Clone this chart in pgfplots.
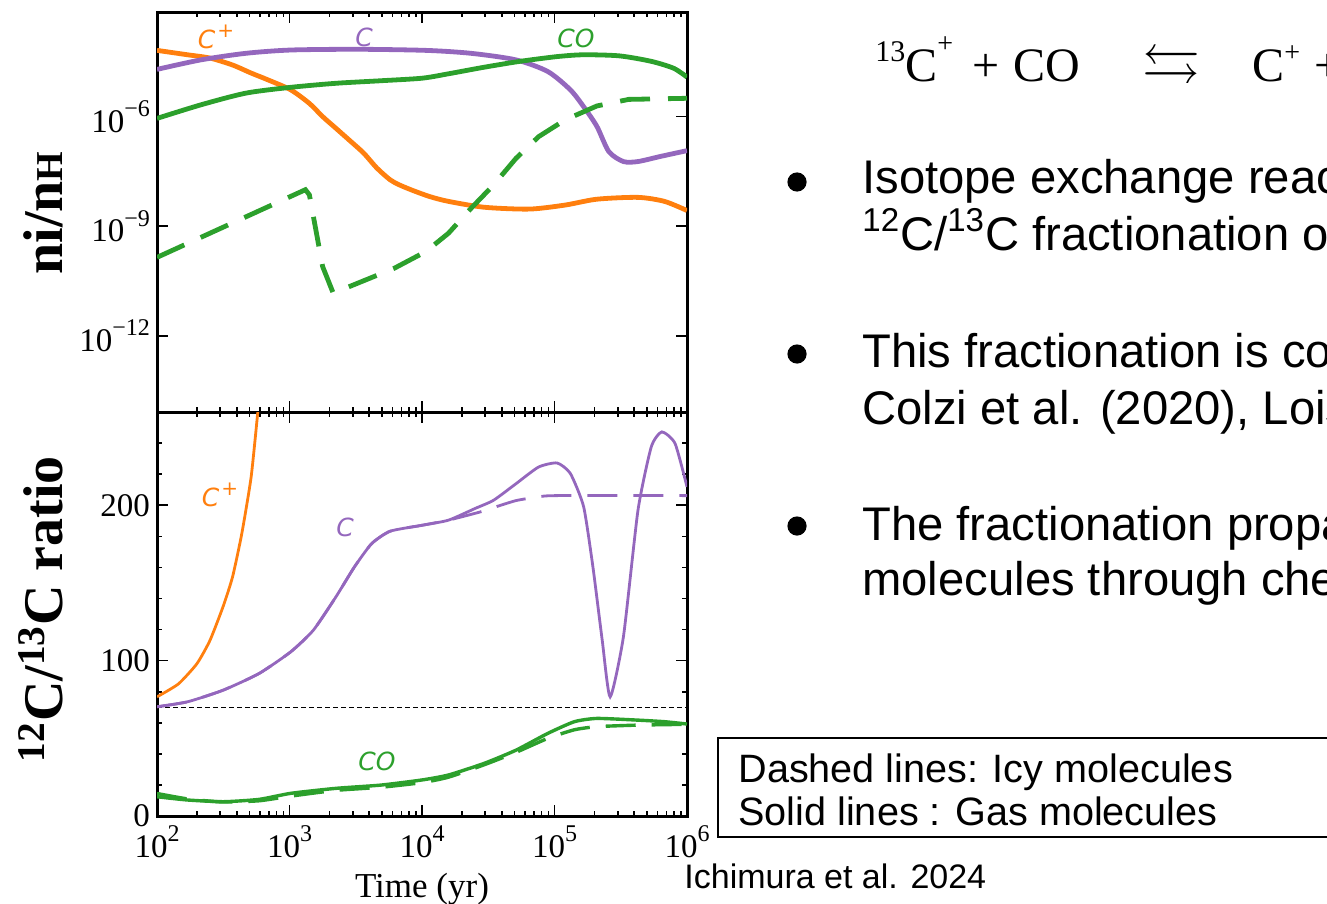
\documentclass[border=0pt]{standalone}
\usepackage{fontspec}
\usepackage{amssymb}
\usepackage{pgfplots}
\pgfplotsset{compat=1.18}
\setmainfont{Liberation Sans}
\newfontfamily\tnr{Liberation Serif}
\newfontfamily\dvs{DejaVu Sans}
\definecolor{cOr}{HTML}{FF7F0E}
\definecolor{cPu}{HTML}{9467BD}
\definecolor{cGr}{HTML}{2CA02C}
\newcommand\bt{\fontsize{23.6}{28}\selectfont}
\newcommand\lab{\dvs\itshape\fontsize{12.5}{14}\selectfont}
\newcommand\ex[1]{\raisebox{0.48em}{\fontsize{12}{12}\selectfont #1}}
\newcommand\cp{C\kern1pt\raisebox{0.42em}{\fontsize{10}{10}\selectfont +}}
\begin{document}
\begin{tikzpicture}[x=0.5pt,y=-0.5pt]
\useasboundingbox (0,0) rectangle (1327,904);
\clip (0,0) rectangle (1327,904);

% ---------------- top panel ----------------
\begin{axis}[at={(78.5pt,-206pt)}, anchor=south west,
  scale only axis, width=265pt, height=200pt,
  xmode=log, xmin=100, xmax=1e6,
  xtick={1e2,1e3,1e4,1e5,1e6},
  minor xtick={200,300,400,500,600,700,800,900,2000,3000,4000,5000,6000,7000,8000,9000,
      20000,30000,40000,50000,60000,70000,80000,90000,
      200000,300000,400000,500000,600000,700000,800000,900000},
  axis line style={line width=1.5pt},
  every tick/.style={black, line width=0.8pt},
  major tick length=5.5pt, minor tick length=2.5pt,
  tick align=inside,
  tick label style={font=\tnr\fontsize{16.5}{18}\selectfont},
  ymode=log, ymin=8.32e-15, ymax=7.24e-4,
  ytick={1e-12,1e-9,1e-6},
  yticklabels={10\ex{−12},10\ex{−9},10\ex{−6}},
  yminorticks=false,
  xticklabels={},
  ylabel={ni/n{\fontsize{19}{19}\selectfont H}},
  ylabel style={at={(axis description cs:-0.179,0.4975)}, anchor=base,
    font=\tnr\bfseries\fontsize{28}{30}\selectfont},
]
\addplot[cOr, line width=2.4pt, smooth, tension=0.45] coordinates {
 (100,6.46e-5) (170,4.90e-5) (251,3.98e-5) (372,2.57e-5) (513,1.55e-5)
 (692,1.0e-5) (1023,5.37e-6) (1413,2.29e-6) (1778,1.0e-6) (2239,4.79e-7)
 (2818,2.29e-7) (3631,1.0e-7) (4571,3.89e-8) (5754,1.86e-8) (6761,1.35e-8)
 (8511,9.55e-9) (11482,6.46e-9) (15849,4.79e-9) (29512,3.31e-9) (64565,2.95e-9)
 (120226,3.80e-9) (208930,5.50e-9) (426580,6.17e-9) (676083,4.79e-9) (1e6,2.69e-9)};
\addplot[cPu, line width=2.4pt, smooth, tension=0.45] coordinates {
 (100,1.95e-5) (214,3.55e-5) (468,5.37e-5) (1023,6.61e-5) (3311,6.92e-5)
 (10715,6.46e-5) (23442,5.37e-5) (51286,3.55e-5) (89125,1.70e-5) (131826,5.37e-6)
 (165959,1.86e-6) (208930,5.37e-7) (257040,1.10e-7) (331131,5.89e-8)
 (426580,5.89e-8) (630957,8.13e-8) (1e6,1.17e-7)};
\addplot[cGr, line width=2.4pt, smooth, tension=0.45] coordinates {
 (100,8.91e-7) (214,2.09e-6) (468,4.37e-6) (1023,6.31e-6) (2239,8.13e-6)
 (4898,9.55e-6) (10000,1.12e-5) (15849,1.48e-5) (29512,2.24e-5) (54954,3.24e-5)
 (104713,4.37e-5) (165959,4.90e-5) (309030,4.57e-5) (537032,3.24e-5)
 (794328,2.09e-5) (1e6,1.20e-5)};
\addplot[cGr, line width=2.4pt, dash pattern=on 15pt off 9pt] coordinates {
 (100,1.41e-10) (1318,1.0e-8) (1413,7.24e-9) (1778,7.94e-11) (2138,1.48e-11)
 (6166,7.08e-11) (10715,2.04e-10) (15849,6.46e-10) (23442,3.09e-9) (34674,1.35e-8)
 (51286,7.24e-8) (75858,2.82e-7) (120226,8.13e-7) (208930,1.95e-6)
 (363078,2.95e-6) (1e6,3.16e-6)};
\end{axis}

% ---------------- bottom panel ----------------
\begin{axis}[at={(78.5pt,-408pt)}, anchor=south west,
  scale only axis, width=265pt, height=202pt,
  xmode=log, xmin=100, xmax=1e6,
  xtick={1e2,1e3,1e4,1e5,1e6},
  minor xtick={200,300,400,500,600,700,800,900,2000,3000,4000,5000,6000,7000,8000,9000,
      20000,30000,40000,50000,60000,70000,80000,90000,
      200000,300000,400000,500000,600000,700000,800000,900000},
  axis line style={line width=1.5pt},
  every tick/.style={black, line width=0.8pt},
  major tick length=5.5pt, minor tick length=2.5pt,
  tick align=inside,
  tick label style={font=\tnr\fontsize{16.5}{18}\selectfont},
  xticklabel style={yshift=-1.5pt},
  ymin=0, ymax=260,
  ytick={0,100,200}, yticklabels={0,100,200},
  minor ytick={20,40,60,80,120,140,160,180,220,240},
  xticklabels={10\ex{2},10\ex{3},10\ex{4},10\ex{5},10\ex{6}},
  xlabel={Time (yr)},
  xlabel style={at={(axis description cs:0.5,-0.18)}, anchor=center,
    font=\tnr\fontsize{17.5}{19}\selectfont},
  ylabel={\textsuperscript{12}C/\textsuperscript{13}C ratio},
  ylabel style={at={(axis description cs:-0.179,0.512)}, anchor=base,
    font=\tnr\bfseries\fontsize{28}{30}\selectfont},
]
\addplot[black, line width=0.7pt, dash pattern=on 2.5pt off 1.5pt] coordinates {(100,70) (1e6,70)};
\addplot[cOr, line width=1.4pt, smooth, tension=0.35] coordinates {
 (100,76.7) (145,85) (200,98) (251,113) (316,135) (372,154) (437,182)
 (513,218) (575,259) (600,275)};
\addplot[cPu, line width=1.4pt, smooth, tension=0.35] coordinates {
 (100,70.3) (170,73.5) (316,81) (589,91.7) (1023,105.7) (1514,119.6)
 (2239,141) (3090,160.3) (4169,175.3) (5754,183.3) (10000,187.1) (15849,190.4)
 (25119,197.9) (34674,203.2) (51286,213.9) (75858,224.6) (104713,227.2)
 (131826,220.4) (165959,199) (194984,160.3) (229087,113.2) (263027,76.7)
 (331131,115.3) (426580,196.8) (537032,237.5) (645654,247.2) (812831,239.7)
 (1e6,211.8)};
\addplot[cPu, line width=1.4pt, smooth, tension=0.35, dash pattern=on 15pt off 8pt] coordinates {
 (100,70.3) (170,73.5) (316,81) (589,91.7) (1023,105.7) (1514,119.6)
 (2239,141) (3090,160.3) (4169,175.3) (5754,183.3) (10000,187.1) (15849,190.4)
 (27542,195.7) (34674,198.5) (51286,203) (75858,205.4) (104713,206.2) (1e6,206.2)};
\addplot[cGr, line width=1.7pt, smooth, tension=0.35] coordinates {
 (100,12.4) (170,10.3) (316,9.2) (589,10.7) (1023,14.6) (2239,17.8) (4898,19.9)
 (10000,23.2) (15849,26.4) (29512,33.9) (51286,42.4) (89125,53.2) (141254,60.7)
 (208930,62.8) (426580,61.7) (676083,60.7) (1e6,59.2)};
\addplot[cGr, line width=1.7pt, smooth, tension=0.35, dash pattern=on 15pt off 8pt] coordinates {
 (100,14.5) (170,11) (316,9.0) (589,9.8) (1023,12.8) (2239,16.5) (4898,18.5)
 (10000,21.5) (15849,25) (29512,33) (51286,41) (89125,50) (141254,55.5)
 (208930,57.5) (426580,58.5) (1e6,59)};
\end{axis}

% curve labels
\node[font=\lab, text=cOr] at (216,37) {\cp};
\node[font=\lab, text=cPu] at (364,37) {C};
\node[font=\lab, text=cGr] at (576,38) {CO};
\node[font=\lab, text=cOr] at (220,495) {\cp};
\node[font=\lab, text=cPu] at (345,527) {C};
\node[font=\lab, text=cGr] at (377,761) {CO};

% equation
\node[anchor=base west, inner sep=0, font=\tnr\fontsize{24}{28}\selectfont] at (875,82)
 {\raisebox{0.42em}{\fontsize{15}{15}\selectfont 13}C\raisebox{0.62em}{\fontsize{14}{14}\selectfont +}\hspace{0.4em}+\hspace{0.3em}CO};
\node[anchor=base west, inner sep=0, font=\fontsize{29}{32}\selectfont] at (1142,84) {$\leftrightarrows$};
\node[anchor=base west, inner sep=0, font=\tnr\fontsize{24}{28}\selectfont] at (1252,82)
 {C\raisebox{0.42em}{\fontsize{14}{14}\selectfont +}\hspace{0.3em}+\hspace{0.25em}\raisebox{0.42em}{\fontsize{15}{15}\selectfont 13}CO};

% bullets
\fill (797,182) circle[radius=4.8pt];
\fill (797,354) circle[radius=4.8pt];
\fill (797,526) circle[radius=4.8pt];
\node[anchor=base west, inner sep=0, font=\bt] at (862,193) {Isotope exchange reactions};
\node[anchor=base west, inner sep=0, font=\bt] at (862,250) {\textsuperscript{12}C/\textsuperscript{13}C fractionation of};
\node[anchor=base west, inner sep=0, font=\bt] at (862,367) {This fractionation is consistent};
\node[anchor=base west, inner sep=0, font=\bt] at (862,424) {Colzi et al. (2020), Loison};
\node[anchor=base west, inner sep=0, font=\bt] at (862,540) {The fractionation propagates};
\node[anchor=base west, inner sep=0, font=\bt] at (862,595) {molecules through chemistry};

% box
\draw[line width=1pt] (718,738) rectangle (1345,837);
\node[anchor=base west, inner sep=0, font=\fontsize{19.8}{23}\selectfont] at (738,782) {Dashed lines: Icy molecules};
\node[anchor=base west, inner sep=0, font=\fontsize{19.8}{23}\selectfont] at (738,825) {Solid lines : Gas molecules};
\node[anchor=base west, inner sep=0, font=\fontsize{17}{20}\selectfont] at (684,888) {Ichimura et al. 2024};
\end{tikzpicture}
\end{document}
